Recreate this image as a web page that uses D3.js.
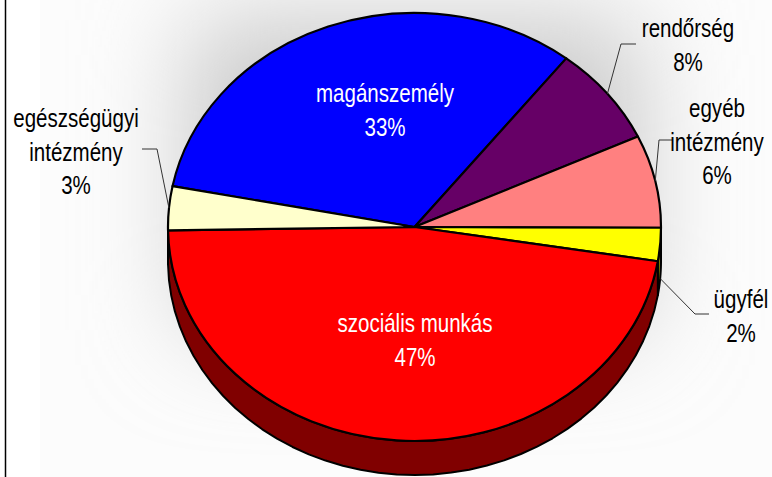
<!DOCTYPE html>
<html><head><meta charset="utf-8">
<script src="https://cdn.jsdelivr.net/npm/d3@7/dist/d3.min.js"></script>
<style>html,body{margin:0;padding:0;background:#fff;overflow:hidden}svg{display:block}
text{font-family:"Liberation Sans",Arial,sans-serif;font-size:26px}</style>
</head><body><svg id="c" width="772" height="477"></svg>
<script>
const categories = ["magánszemély","rendőrség","egyéb intézmény","ügyfél","szociális munkás","egészségügyi intézmény"];
const shares = [32.5,7.5,7.0,2.5,47.2,3.3];
const percentLabels = ["33%","8%","6%","2%","47%","3%"];
const topColors = ["#0000ff","#660066","#ff8080","#ffff00","#ff0000","#ffffcc"];
const sideColors = ["#000080","#330033","#804040","#808000","#800000","#808066"];
const labelLines = [["magánszemély"],["rendőrség"],["egyéb","intézmény"],["ügyfél"],["szociális munkás"],["egészségügyi","intézmény"]];
const labelAnchors = [[385,102],[688,37],[717,117],[741,308],[415,332],[76,127]];
const leaderElbows = [null,[[636,44],[621,44]],[[673,140],[659,140]],[[709,314],[695,314]],null,[[142,149],[157,149]]];
const insideLabel = [true,false,false,false,true,false];

const cx=414.5, cy=227, rx=246.5, ry=214, depth=34, lineGap=33.5, squeeze=0.79;
const svg=d3.select("#c");
const defs=svg.append("defs");
defs.append("filter").attr("id","blur").attr("x","-60%").attr("y","-60%").attr("width","220%").attr("height","220%")
  .append("feGaussianBlur").attr("stdDeviation",52);
defs.append("clipPath").attr("id","plot").append("rect").attr("x",40).attr("y",0).attr("width",732).attr("height",477);
const bg=svg.append("g").attr("clip-path","url(#plot)");
bg.append("rect").attr("x",40).attr("y",0).attr("width",732).attr("height",477).attr("fill","#fcfcfc");
bg.append("rect").attr("x",190).attr("y",20).attr("width",450).attr("height",310).attr("fill","#c8c8c8").attr("filter","url(#blur)");
svg.append("line").attr("x1",5.5).attr("x2",5.5).attr("y1",0).attr("y2",477).attr("stroke","#000").attr("stroke-width",1.5);

const start=281*Math.PI/180;
const arcs=d3.pie().sort(null).startAngle(start).endAngle(start+2*Math.PI)(shares);
const px=a=>cx+rx*Math.sin(a), py=a=>cy-ry*Math.cos(a);

// side wall, visible on the front half only
const front=[2.5*Math.PI,3.5*Math.PI];
const wall=d3.line();
arcs.forEach((d,i)=>{
  const a0=Math.max(d.startAngle,front[0]), a1=Math.min(d.endAngle,front[1]);
  if(a1<=a0) return;
  const ts=d3.range(0,41).map(k=>a0+(a1-a0)*k/40);
  const pts=ts.map(a=>[px(a),py(a)]).concat(ts.slice().reverse().map(a=>[px(a),py(a)+depth]));
  svg.append("path").attr("d",wall(pts)+"Z").attr("fill",sideColors[i]).attr("stroke","#000").attr("stroke-width",2).attr("stroke-linejoin","round");
});

// top face
const arc=d3.arc().innerRadius(0).outerRadius(rx);
const face=svg.append("g").attr("transform",`translate(${cx},${cy}) scale(1,${ry/rx})`);
face.selectAll("path").data(arcs).join("path").attr("d",arc)
  .attr("fill",(d,i)=>topColors[i]).attr("stroke","#000").attr("stroke-width",2.2)
  .attr("stroke-linejoin","round").attr("vector-effect","non-scaling-stroke");

// leaders
arcs.forEach((d,i)=>{
  if(!leaderElbows[i]) return;
  const m=(d.startAngle+d.endAngle)/2;
  const onFront=m>=front[0]&&m<=front[1];
  const end=[px(m),py(m)+(onFront&&i===3?depth:0)];
  svg.append("path").attr("d",d3.line()(leaderElbows[i].concat([end]))).attr("fill","none").attr("stroke","#333").attr("stroke-width",1);
});

// labels
labelLines.forEach((ls,i)=>{
  const lines=ls.concat([percentLabels[i]]);
  lines.forEach((t,k)=>{
    svg.append("text").attr("transform",`translate(${labelAnchors[i][0]},${labelAnchors[i][1]+k*lineGap}) scale(${squeeze},1)`)
      .attr("text-anchor","middle").attr("fill",insideLabel[i]?"#fff":"#000").text(t);
  });
});
</script></body></html>
